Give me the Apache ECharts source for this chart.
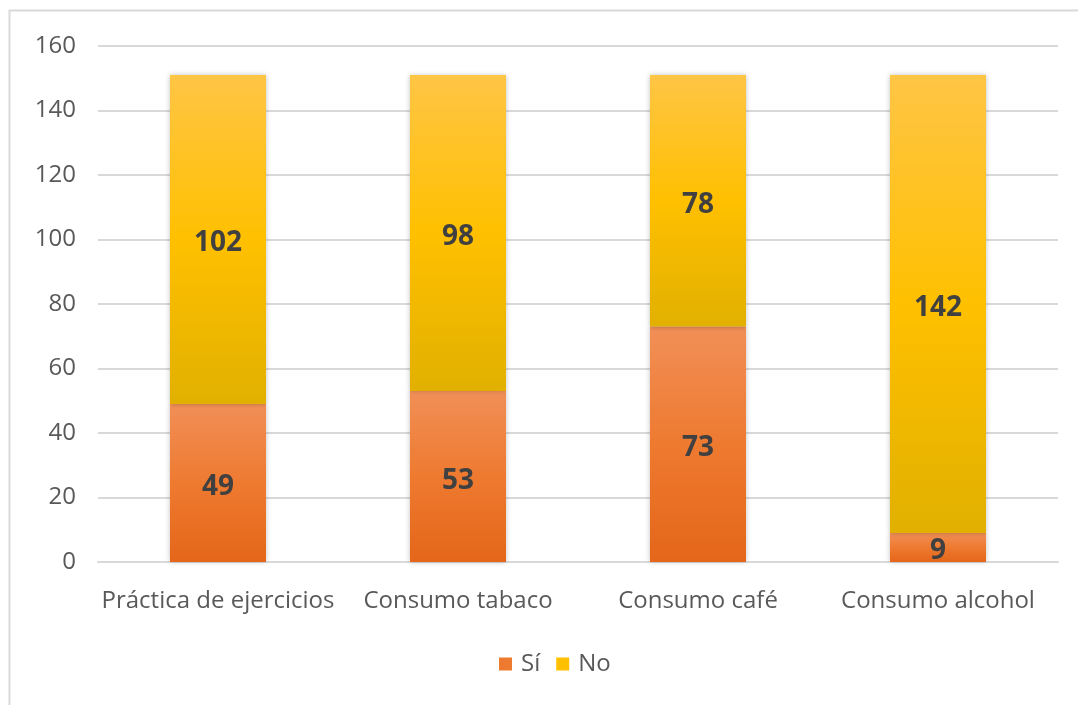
<!DOCTYPE html>
<html>
<head>
<meta charset="utf-8">
<script src="https://cdn.jsdelivr.net/npm/echarts@6/dist/echarts.min.js"></script>
<style>html,body{margin:0;padding:0;background:#fff}#c{width:1078px;height:705px}</style>
</head>
<body>
<div id="c"></div>
<script>
const categories = ['Práctica de ejercicios', 'Consumo tabaco', 'Consumo café', 'Consumo alcohol'];
const siValues = [49, 53, 73, 9];
const noValues = [102, 98, 78, 142];
const seriesNames = ['Sí', 'No'];

const FONT = 'Open Sans';
const chart = echarts.init(document.getElementById('c'), null, {renderer: 'canvas'});
const grad = (stops) => new echarts.graphic.LinearGradient(0, 0, 0, 1, stops);
const siColor = grad([{offset: 0, color: '#F18F57'}, {offset: 0.5, color: '#EE7A30'}, {offset: 1, color: '#E4661A'}]);
const noColor = grad([{offset: 0, color: '#FFC545'}, {offset: 0.5, color: '#FFC000'}, {offset: 1, color: '#E1B000'}]);
const labelStyle = {show: true, position: 'inside', offset: [0, 4], fontFamily: FONT, fontWeight: 'bold', fontSize: 28, color: '#404040'};
chart.setOption({
  animation: false,
  backgroundColor: '#fff',
  graphic: [{type: 'rect', shape: {x: 9.5, y: 10.5, width: 1080, height: 710}, style: {fill: 'none', stroke: '#D9D9D9', lineWidth: 2}, silent: true}],
  grid: {left: 98, right: 20, top: 46, bottom: 143, containLabel: false},
  legend: {
    data: [{name: 'Sí', itemStyle: {color: '#EE7A30'}}, {name: 'No', itemStyle: {color: '#FFC000'}}],
    bottom: 24, left: 494, itemWidth: 13, itemHeight: 13, itemGap: 16, icon: 'rect',
    textStyle: {fontFamily: FONT, fontSize: 24, color: '#595959', padding: [0, 0, 0, 4]}
  },
  xAxis: {
    type: 'category', data: categories,
    axisLine: {lineStyle: {color: '#D9D9D9', width: 2}}, axisTick: {show: false},
    axisLabel: {fontFamily: FONT, fontSize: 24, color: '#595959', margin: 27, interval: 0}
  },
  yAxis: {
    type: 'value', min: 0, max: 160, interval: 20,
    axisLine: {show: false}, axisTick: {show: false},
    axisLabel: {fontFamily: FONT, fontSize: 24, color: '#595959', margin: 22},
    splitLine: {lineStyle: {color: '#D9D9D9', width: 2}}
  },
  series: [
    {name: seriesNames[0], type: 'bar', stack: 't', data: siValues, barWidth: '40%',
     itemStyle: {color: siColor, shadowBlur: 5, shadowColor: 'rgba(0,0,0,0.25)', shadowOffsetX: 0, shadowOffsetY: 0}, label: labelStyle},
    {name: seriesNames[1], type: 'bar', stack: 't', data: noValues, barWidth: '40%',
     itemStyle: {color: noColor, shadowBlur: 5, shadowColor: 'rgba(0,0,0,0.25)', shadowOffsetX: 0, shadowOffsetY: 0}, label: labelStyle}
  ]
});
</script>
</body>
</html>
